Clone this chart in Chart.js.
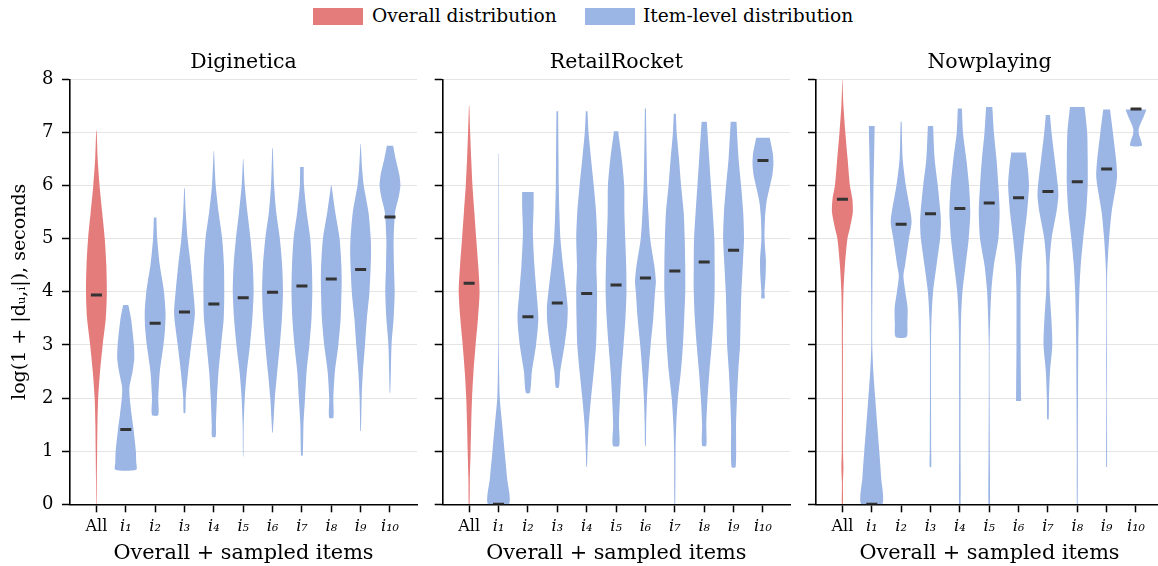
<!DOCTYPE html>
<html><head><meta charset="utf-8">
<script src="https://cdn.jsdelivr.net/npm/chart.js@4.4.0/dist/chart.umd.min.js"></script>
<style>
html,body{margin:0;padding:0;width:1158px;height:566px;overflow:hidden;background:#fff;position:relative;}
#legend{position:absolute;top:0;left:0;width:1158px;height:34px;font-family:"DejaVu Serif",serif;font-size:18.6px;color:#000;}
.sw{position:absolute;top:8px;width:50px;height:17px;}
.lt{position:absolute;top:5px;white-space:nowrap;line-height:22px;}
canvas{position:absolute;top:0;}
</style></head><body>
<div id="legend">
  <div class="sw" style="left:313px;background:rgb(229,124,124)"></div>
  <div class="lt" style="left:372px">Overall distribution</div>
  <div class="sw" style="left:585px;background:rgb(155,181,228)"></div>
  <div class="lt" style="left:643px">Item-level distribution</div>
</div>
<canvas id="c1" width="430" height="566" style="left:0px"></canvas>
<canvas id="c2" width="373" height="566" style="left:430px"></canvas>
<canvas id="c3" width="373" height="566" style="left:803px"></canvas>
<script>
// ---------- data ----------
const categories = ["All","i\u2081","i\u2082","i\u2083","i\u2084","i\u2085","i\u2086","i\u2087","i\u2088","i\u2089","i\u2081\u2080"];
const panelTitles = ["Diginetica","RetailRocket","Nowplaying"];
const legendLabels = ["Overall distribution","Item-level distribution"];
const yTickValues = [0,1,2,3,4,5,6,7,8];

// violin profiles: [value, relative density width], from top to bottom
const digineticaViolins = [
  [[7.05,0],[7.0,0.03],[6.5,0.12],[6.0,0.3],[5.5,0.55],[5.0,0.8],[4.5,0.95],[4.0,1.0],[3.5,0.9],[3.0,0.6],[2.5,0.35],[2.0,0.17],[1.5,0.1],[1.0,0.07],[0.5,0.04],[0.0,0.02]],
  [[3.75,0.25],[3.5,0.5],[3.0,0.78],[2.75,0.82],[2.5,0.65],[2.2,0.35],[2.0,0.38],[1.7,0.55],[1.4,0.75],[1.0,0.97],[0.8,1.0],[0.65,1.0]],
  [[5.4,0.12],[5.0,0.2],[4.5,0.45],[4.2,0.7],[4.0,0.85],[3.6,1.0],[3.3,0.95],[3.0,0.8],[2.5,0.45],[2.0,0.3],[1.68,0.3]],
  [[5.95,0.03],[5.5,0.12],[5.0,0.3],[4.5,0.6],[4.0,0.85],[3.6,1.0],[3.3,0.85],[3.0,0.65],[2.5,0.35],[2.0,0.12],[1.72,0.08]],
  [[6.65,0.02],[6.0,0.18],[5.5,0.45],[5.0,0.8],[4.5,0.97],[4.0,1.0],[3.5,0.95],[3.0,0.7],[2.5,0.45],[2.0,0.3],[1.5,0.2],[1.27,0.17]],
  [[6.5,0.02],[6.0,0.15],[5.5,0.4],[5.0,0.7],[4.5,0.92],[4.0,1.0],[3.5,0.88],[3.0,0.65],[2.5,0.35],[2.0,0.15],[1.5,0.05],[0.9,0.02]],
  [[6.7,0.03],[6.0,0.15],[5.5,0.35],[5.0,0.7],[4.5,0.92],[4.0,1.0],[3.5,0.9],[3.0,0.7],[2.5,0.45],[2.0,0.22],[1.35,0.03]],
  [[6.35,0.17],[6.0,0.2],[5.5,0.45],[5.0,0.8],[4.5,0.95],[4.0,1.0],[3.5,0.92],[3.0,0.72],[2.5,0.45],[2.0,0.3],[1.5,0.15],[0.92,0.08]],
  [[6.0,0.03],[5.5,0.38],[5.0,0.8],[4.5,0.97],[4.2,1.0],[3.5,0.9],[3.0,0.68],[2.5,0.35],[2.0,0.2],[1.63,0.2]],
  [[6.78,0.02],[6.3,0.15],[6.0,0.3],[5.5,0.75],[5.0,0.97],[4.7,1.0],[4.0,0.85],[3.5,0.6],[3.0,0.42],[2.5,0.22],[2.0,0.1],[1.38,0.03]],
  [[6.75,0.3],[6.5,0.55],[6.2,0.9],[6.0,1.0],[5.8,0.85],[5.5,0.5],[5.0,0.35],[4.5,0.38],[4.0,0.45],[3.5,0.35],[3.0,0.15],[2.1,0.03]]
];
const digineticaMedians = [3.94,1.41,3.41,3.62,3.77,3.89,3.99,4.11,4.24,4.42,5.41];

const retailRocketViolins = [
  [[7.5,0.02],[7.0,0.1],[6.5,0.2],[6.0,0.32],[5.5,0.5],[5.0,0.68],[4.5,0.87],[4.0,1.0],[3.5,0.85],[3.0,0.62],[2.5,0.42],[2.0,0.28],[1.5,0.2],[1.0,0.14],[0.5,0.07],[0.0,0.04]],
  [[6.6,0.02],[5.0,0.03],[3.0,0.03],[2.5,0.06],[2.0,0.12],[1.5,0.35],[1.0,0.58],[0.5,0.82],[0.0,1.0]],
  [[5.88,0.55],[5.6,0.55],[5.1,0.48],[4.5,0.62],[4.0,0.82],[3.5,1.0],[3.0,0.78],[2.5,0.38],[2.1,0.2]],
  [[7.4,0.08],[6.5,0.12],[6.0,0.14],[5.5,0.2],[5.0,0.3],[4.5,0.55],[4.0,0.85],[3.7,1.0],[3.4,0.95],[3.0,0.7],[2.5,0.28],[2.2,0.15]],
  [[7.4,0.08],[7.0,0.18],[6.5,0.42],[6.0,0.68],[5.5,0.9],[5.0,1.0],[4.5,0.93],[4.0,1.0],[3.5,0.97],[3.0,0.9],[2.5,0.68],[2.0,0.42],[1.5,0.2],[1.0,0.08],[0.7,0.03]],
  [[7.02,0.2],[6.5,0.55],[6.0,0.78],[5.5,0.8],[5.0,0.88],[4.5,0.97],[4.0,1.0],[3.5,0.9],[3.0,0.72],[2.5,0.52],[2.0,0.38],[1.5,0.28],[1.1,0.3]],
  [[7.45,0.05],[7.0,0.08],[6.5,0.12],[6.0,0.17],[5.5,0.28],[5.0,0.45],[4.5,0.85],[4.2,1.0],[4.0,0.92],[3.5,0.75],[3.0,0.5],[2.5,0.3],[2.0,0.15],[1.5,0.07],[1.1,0.04]],
  [[7.35,0.1],[7.0,0.18],[6.5,0.4],[6.0,0.6],[5.5,0.85],[5.0,0.95],[4.5,1.0],[4.0,1.0],[3.5,0.9],[3.0,0.78],[2.5,0.58],[2.0,0.3],[1.5,0.14],[1.0,0.07],[0.0,0.04]],
  [[7.2,0.25],[6.5,0.48],[6.0,0.65],[5.5,0.82],[5.0,0.97],[4.5,1.0],[4.0,1.0],[3.5,0.9],[3.0,0.72],[2.5,0.5],[2.0,0.32],[1.5,0.2],[1.1,0.2]],
  [[7.2,0.28],[6.5,0.48],[6.0,0.72],[5.5,0.92],[5.0,1.0],[4.5,0.88],[4.0,0.75],[3.5,0.68],[3.0,0.62],[2.5,0.45],[2.0,0.33],[1.5,0.24],[0.7,0.2]],
  [[6.9,0.65],[6.6,0.95],[6.4,1.0],[6.2,0.9],[6.0,0.68],[5.7,0.35],[5.4,0.2],[5.0,0.15],[4.6,0.28],[4.3,0.25],[4.0,0.15],[3.88,0.15]]
];
const retailRocketMedians = [4.16,0.0,3.53,3.79,3.97,4.13,4.26,4.39,4.56,4.78,6.47];

const nowplayingViolins = [
  [[8.0,0.01],[7.5,0.1],[7.0,0.28],[6.5,0.5],[6.0,0.72],[5.75,0.95],[5.5,1.0],[5.2,0.72],[5.0,0.48],[4.5,0.24],[4.0,0.1],[3.5,0.06],[3.0,0.05],[2.0,0.05],[1.0,0.06],[0.7,0.1],[0.4,0.05],[0.0,0.05]],
  [[7.12,0.28],[6.8,0.25],[6.0,0.17],[5.0,0.1],[4.0,0.06],[3.0,0.05],[2.5,0.15],[2.0,0.33],[1.5,0.52],[1.0,0.72],[0.5,0.9],[0.0,1.0]],
  [[7.2,0.05],[6.5,0.15],[6.0,0.45],[5.5,0.9],[5.3,1.0],[5.0,0.75],[4.5,0.38],[4.3,0.22],[4.0,0.4],[3.7,0.62],[3.4,0.6],[3.15,0.52]],
  [[7.12,0.25],[6.5,0.4],[6.0,0.7],[5.5,0.95],[5.3,1.0],[5.0,0.92],[4.5,0.58],[4.0,0.25],[3.5,0.1],[3.0,0.05],[2.0,0.05],[1.5,0.06],[1.0,0.07],[0.7,0.07]],
  [[7.45,0.2],[7.0,0.3],[6.5,0.62],[6.0,0.88],[5.5,1.0],[5.0,0.85],[4.5,0.55],[4.0,0.25],[3.5,0.12],[3.0,0.08],[2.0,0.07],[1.0,0.07],[0.0,0.07]],
  [[7.48,0.3],[7.0,0.45],[6.5,0.7],[6.0,0.88],[5.5,1.0],[5.0,0.88],[4.5,0.45],[4.0,0.2],[3.5,0.1],[3.0,0.04],[2.0,0.04],[1.0,0.06],[0.0,0.07]],
  [[6.62,0.7],[6.3,0.9],[6.0,1.0],[5.5,0.82],[5.0,0.52],[4.5,0.28],[4.0,0.2],[3.0,0.2],[2.0,0.24],[1.95,0.24]],
  [[7.33,0.2],[7.0,0.35],[6.5,0.65],[6.0,0.95],[5.8,1.0],[5.5,0.82],[5.0,0.35],[4.5,0.15],[4.0,0.17],[3.5,0.33],[3.0,0.42],[2.5,0.2],[2.0,0.1],[1.6,0.07]],
  [[7.48,0.7],[7.0,0.95],[6.5,1.0],[6.0,1.0],[5.5,0.85],[5.0,0.57],[4.5,0.33],[4.0,0.2],[3.5,0.14],[3.0,0.1],[2.0,0.07],[1.0,0.05],[0.0,0.04]],
  [[7.43,0.33],[7.0,0.6],[6.5,0.9],[6.2,1.0],[6.0,0.9],[5.5,0.48],[5.0,0.24],[4.7,0.14],[4.3,0.05],[3.5,0.03],[2.5,0.04],[2.0,0.03],[1.5,0.04],[0.7,0.04]],
  [[7.43,1.0],[7.3,0.75],[7.15,0.4],[7.05,0.25],[6.95,0.3],[6.85,0.48],[6.75,0.55]]
];
const nowplayingMedians = [5.74,0.0,5.27,5.47,5.57,5.67,5.77,5.89,6.07,6.31,7.44];

// ---------- style ----------
const FONT = '"DejaVu Serif", serif';
const OVERALL_COLOR = 'rgb(229,124,124)';
const ITEM_COLOR = 'rgb(155,181,228)';
const HALF = 0.355;

function violinPoints(profile, idx) {
  const right = profile.map(p => ({x: idx + p[1] * HALF, y: p[0]}));
  const left = profile.slice().reverse().map(p => ({x: idx - p[1] * HALF, y: p[0]}));
  return right.concat(left);
}

function buildDatasets(violins, medians) {
  const ds = [{
    type: 'scatter',
    data: medians.map((m, i) => ({x: i, y: m})),
    pointStyle: 'line', pointRadius: 5.5, pointBorderWidth: 3,
    pointBorderColor: '#333333', pointBackgroundColor: '#333333',
    showLine: false
  }];
  violins.forEach((prof, i) => {
    const c = i === 0 ? OVERALL_COLOR : ITEM_COLOR;
    ds.push({
      type: 'scatter', showLine: true, data: violinPoints(prof, i),
      fill: 'shape', backgroundColor: c, borderColor: 'rgba(0,0,0,0)', borderWidth: 0,
      pointRadius: 0, tension: 0.25
    });
  });
  return ds;
}

const panels = [
  {id: 'c1', axisW: 70, violins: digineticaViolins, medians: digineticaMedians, yLabels: true},
  {id: 'c2', axisW: 12.7, violins: retailRocketViolins, medians: retailRocketMedians, yLabels: false},
  {id: 'c3', axisW: 13, violins: nowplayingViolins, medians: nowplayingMedians, yLabels: false}
];

panels.forEach((p, pi) => {
  new Chart(document.getElementById(p.id), {
    data: {datasets: buildDatasets(p.violins, p.medians)},
    options: {
      responsive: false, animation: false, events: [],
      layout: {padding: {top: 40, right: 13, bottom: 0, left: 0}},
      plugins: {
        legend: {display: false}, tooltip: {enabled: false},
        title: {display: true, text: panelTitles[pi], fullSize: false, color: '#000',
          font: {family: FONT, size: 20.5, weight: 'normal'}, lineHeight: 1.2, padding: {top: 10, bottom: 4.7}}
      },
      scales: {
        x: {
          type: 'linear', min: -0.9, max: 10.92,
          afterBuildTicks: s => { s.ticks = categories.map((c, i) => ({value: i})); },
          afterFit: s => { s.height = 61.7; },
          ticks: {
            autoSkip: false, maxRotation: 0, padding: 5, color: '#000',
            callback: v => categories[v],
            font: ctx => ({family: FONT, size: 16, style: ctx.index === 0 ? 'normal' : 'italic'})
          },
          grid: {drawOnChartArea: false, drawTicks: true, tickLength: 8, tickColor: '#000', tickWidth: 1.5},
          border: {display: true, color: '#000', width: 1.6},
          title: {display: true, text: 'Overall + sampled items', color: '#000',
            font: {family: FONT, size: 20.8}, padding: {top: 0, bottom: 0}}
        },
        y: {
          type: 'linear', min: 0, max: 8,
          afterBuildTicks: s => { s.ticks = yTickValues.map(v => ({value: v})); },
          afterFit: s => { s.width = p.axisW; },
          ticks: {
            padding: 8.5, color: '#000', font: {family: FONT, size: 18},
            callback: v => p.yLabels ? String(v) : ''
          },
          grid: {color: 'rgba(0,0,0,0.1)', lineWidth: 1, drawTicks: true, tickLength: 8, tickColor: '#000', tickWidth: 1.5},
          border: {display: true, color: '#000', width: 1.6},
          title: {display: p.yLabels, text: 'log(1 + |d\u1d64,\u1d62|), seconds', color: '#000',
            font: {family: FONT, size: 19}, padding: {top: 9, bottom: 0}}
        }
      }
    }
  });
});
</script>
</body></html>
